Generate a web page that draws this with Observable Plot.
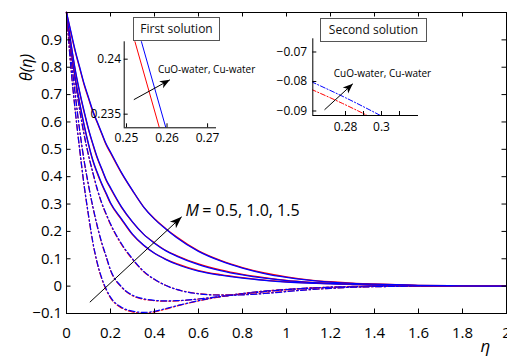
<!DOCTYPE html>
<html><head><meta charset="utf-8">
<script src="https://cdn.jsdelivr.net/npm/d3@7"></script>
<script src="https://cdn.jsdelivr.net/npm/@observablehq/plot@0.6"></script>
<style>
body{margin:0;background:#fff;}
#chart{position:relative;width:507px;height:356px;overflow:hidden;font-family:"Open Sans",sans-serif;background:#fff;}
#chart svg{position:absolute;overflow:visible;background:transparent;}
.tbox{position:absolute;box-sizing:border-box;border:1px solid #555;background:#fff;font-size:12px;text-align:center;color:#111;font-family:"Open Sans",sans-serif;}
</style></head><body><div id="chart"></div>
<script>
// ---------- data ----------
const eta = [0, 0.02, 0.04, 0.06, 0.08, 0.10, 0.12, 0.14, 0.16, 0.18, 0.20, 0.25, 0.30, 0.35, 0.40, 0.45, 0.50, 0.60, 0.70, 0.80, 0.90, 1.00, 1.10, 1.20, 1.30, 1.40, 1.50, 1.60, 1.80, 2.00];

// First solution (solid), Cu-water (blue)
const thetaCu1_M05 = [1, 0.87, 0.76, 0.67, 0.59, 0.52, 0.46, 0.415, 0.375, 0.34, 0.305, 0.246, 0.19, 0.15, 0.12, 0.098, 0.08, 0.055, 0.04, 0.029, 0.021, 0.015, 0.011, 0.008, 0.006, 0.004, 0.003, 0.002, 0.001, 0];
const thetaCu1_M10 = [1, 0.89, 0.79, 0.71, 0.64, 0.575, 0.52, 0.47, 0.43, 0.39, 0.36, 0.29, 0.235, 0.19, 0.157, 0.13, 0.11, 0.079, 0.057, 0.041, 0.029, 0.02, 0.014, 0.01, 0.007, 0.005, 0.003, 0.002, 0.001, 0];
const thetaCu1_M15 = [1, 0.93, 0.86, 0.80, 0.74, 0.69, 0.64, 0.60, 0.56, 0.52, 0.49, 0.415, 0.35, 0.29, 0.245, 0.21, 0.178, 0.127, 0.092, 0.066, 0.046, 0.032, 0.022, 0.015, 0.01, 0.007, 0.005, 0.003, 0.001, 0];
// First solution (solid), CuO-water (red)
const thetaCuO1_M05 = [1, 0.866, 0.756, 0.666, 0.586, 0.517, 0.457, 0.412, 0.372, 0.337, 0.302, 0.2435, 0.188, 0.149, 0.12, 0.099, 0.082, 0.057, 0.042, 0.031, 0.022, 0.016, 0.012, 0.009, 0.006, 0.004, 0.003, 0.002, 0.001, 0];
const thetaCuO1_M10 = [1, 0.886, 0.786, 0.706, 0.636, 0.572, 0.517, 0.467, 0.427, 0.387, 0.357, 0.288, 0.234, 0.19, 0.158, 0.131, 0.112, 0.081, 0.059, 0.043, 0.031, 0.021, 0.015, 0.011, 0.008, 0.005, 0.003, 0.002, 0.001, 0];
const thetaCuO1_M15 = [1, 0.926, 0.856, 0.796, 0.736, 0.686, 0.637, 0.597, 0.557, 0.517, 0.487, 0.413, 0.349, 0.29, 0.246, 0.211, 0.18, 0.129, 0.094, 0.068, 0.048, 0.034, 0.023, 0.016, 0.011, 0.008, 0.005, 0.003, 0.001, 0];

// Second solution (dash-dot), Cu-water (blue)
const thetaCu2_M05 = [1, 0.80, 0.64, 0.50, 0.37, 0.26, 0.16, 0.085, 0.03, -0.01, -0.04, -0.077, -0.0915, -0.096, -0.092, -0.082, -0.072, -0.053, -0.038, -0.027, -0.018, -0.012, -0.007, -0.004, -0.002, -0.001, 0, 0, 0, 0];
const thetaCu2_M10 = [1, 0.84, 0.70, 0.57, 0.46, 0.37, 0.29, 0.22, 0.16, 0.11, 0.06, -0.002, -0.033, -0.046, -0.052, -0.054, -0.053, -0.047, -0.038, -0.029, -0.02, -0.013, -0.008, -0.004, -0.002, -0.001, 0, 0, 0, 0];
const thetaCu2_M15 = [1, 0.865, 0.75, 0.645, 0.555, 0.48, 0.415, 0.355, 0.305, 0.265, 0.228, 0.155, 0.10, 0.055, 0.025, 0.003, -0.012, -0.028, -0.033, -0.032, -0.027, -0.02, -0.013, -0.008, -0.004, -0.002, -0.001, 0, 0, 0];
// Second solution (dash-dot), CuO-water (red)
const thetaCuO2_M05 = [1, 0.798, 0.637, 0.497, 0.367, 0.257, 0.157, 0.082, 0.027, -0.013, -0.043, -0.0795, -0.094, -0.099, -0.094, -0.084, -0.073, -0.054, -0.039, -0.027, -0.018, -0.012, -0.007, -0.004, -0.002, -0.001, 0, 0, 0, 0];
const thetaCuO2_M10 = [1, 0.838, 0.697, 0.567, 0.457, 0.367, 0.287, 0.217, 0.157, 0.107, 0.057, -0.004, -0.035, -0.048, -0.053, -0.055, -0.054, -0.047, -0.038, -0.028, -0.02, -0.013, -0.008, -0.004, -0.002, -0.001, 0, 0, 0, 0];
const thetaCuO2_M15 = [1, 0.862, 0.747, 0.642, 0.552, 0.477, 0.412, 0.352, 0.302, 0.262, 0.225, 0.152, 0.098, 0.053, 0.024, 0.003, -0.012, -0.027, -0.032, -0.031, -0.026, -0.019, -0.013, -0.008, -0.004, -0.002, -0.001, 0, 0, 0];

// Inset 1: first solution zoom
const inset1EtaCuO = [0.2514, 0.2584];
const inset1ThetaCuO = [0.24249, 0.23339];
const inset1EtaCu = [0.2530, 0.2600];
const inset1ThetaCu = [0.24249, 0.23339];
// Inset 2: second solution zoom
const inset2EtaCu = [0.2610, 0.2800, 0.3010];
const inset2ThetaCu = [-0.08007, -0.0855, -0.09203];
const inset2EtaCuO = [0.2610, 0.2775, 0.2940];
const inset2ThetaCuO = [-0.08266, -0.0872, -0.09207];

// ticks
const xTicks = [0, 0.2, 0.4, 0.6, 0.8, 1, 1.2, 1.4, 1.6, 1.8, 2];
const yTicks = [-0.1, 0, 0.1, 0.2, 0.3, 0.4, 0.5, 0.6, 0.7, 0.8, 0.9];
const inset1XTicks = [0.25, 0.26, 0.27];
const inset1YTicks = [0.235, 0.24];
const inset2XTicks = [0.28, 0.29, 0.3, 0.31];
const inset2XLabels = [0.28, 0.3];
const inset2YTicks = [-0.09, -0.08, -0.07];

const labelM = "M";
const labelMValues = "= 0.5, 1.0, 1.5";
const labelFluids = "CuO-water, Cu-water";

// ---------- helpers ----------
const RED = "#ff0000", BLUE = "#0000ff";
const fmt = d => (d < 0 ? "\u2212" + String(Math.abs(d)) : String(d));
const rows = (xs, ys) => xs.map((x, i) => ({x, y: ys[i]}));
const DASHDOT = "6,2.5,1.5,2.5";

function dart(angle, L, W) {
  const c = Math.cos(angle), s = Math.sin(angle);
  const pt = (u, v) => [u * c - v * s, u * s + v * c];
  return {draw(ctx) {
    const a = pt(-L, W), b = pt(-0.72 * L, 0), e = pt(-L, -W);
    ctx.moveTo(0, 0); ctx.lineTo(a[0], a[1]); ctx.lineTo(b[0], b[1]); ctx.lineTo(e[0], e[1]); ctx.closePath();
  }};
}
function screenAngle(ar, kx, ky) {
  return Math.atan2((ar.y2 - ar.y1) * ky, (ar.x2 - ar.x1) * kx);
}

const chart = document.getElementById("chart");
function place(svg, left, top) {
  svg.style.left = left + "px"; svg.style.top = top + "px";
  chart.appendChild(svg);
}

// ---------- main plot ----------
const W = 507, H = 356, mL = 66, mR = 1, mT = 12, mB = 43;
const xDom = [0, 2], yDom = [-0.1, 1];
const innerW = W - mL - mR, innerH = H - mT - mB;
const kx = innerW / (xDom[1] - xDom[0]), ky = -innerH / (yDom[1] - yDom[0]);

const arrowMain = [{x1: 0.106, y1: -0.0588, x2: 0.5236, y2: 0.2533}];

const solid = (arr, color) => Plot.line(rows(eta, arr), {x: "x", y: "y", stroke: color, strokeWidth: 1.3, curve: "monotone-x"});
const dashed = (arr, color) => Plot.line(rows(eta, arr), {x: "x", y: "y", stroke: color, strokeWidth: 1.2, strokeDasharray: DASHDOT, curve: "monotone-x"});

const main = Plot.plot({
  width: W, height: H, marginLeft: mL, marginRight: mR, marginTop: mT, marginBottom: mB,
  style: {fontFamily: "Open Sans, sans-serif", fontSize: "15px", color: "#000", background: "transparent", overflow: "visible"},
  x: {domain: xDom, axis: null},
  y: {domain: yDom, axis: null},
  marks: [
    dashed(thetaCuO2_M05, RED), dashed(thetaCu2_M05, BLUE),
    dashed(thetaCuO2_M10, RED), dashed(thetaCu2_M10, BLUE),
    dashed(thetaCuO2_M15, RED), dashed(thetaCu2_M15, BLUE),
    solid(thetaCuO1_M05, RED), solid(thetaCu1_M05, BLUE),
    solid(thetaCuO1_M10, RED), solid(thetaCu1_M10, BLUE),
    solid(thetaCuO1_M15, RED), solid(thetaCu1_M15, BLUE),
    Plot.tickX(xTicks, {x: d => d, insetTop: innerH - 4.5, stroke: "#000"}),
    Plot.tickX(xTicks, {x: d => d, insetBottom: innerH - 4.5, stroke: "#000"}),
    Plot.tickY(yTicks, {y: d => d, insetRight: innerW - 4.5, stroke: "#000"}),
    Plot.tickY(yTicks, {y: d => d, insetLeft: innerW - 4.5, stroke: "#000"}),
    Plot.axisX({ticks: xTicks, tickSize: 0, tickPadding: 13.5, fontSize: 15, tickFormat: fmt, label: null}),
    Plot.axisY({ticks: yTicks, tickSize: 0, tickPadding: 4.5, fontSize: 15, tickFormat: fmt, label: null}),
    Plot.frame({stroke: "#000", strokeWidth: 1}),
    Plot.link(arrowMain, {x1: "x1", y1: "y1", x2: "x2", y2: "y2", stroke: "#000", strokeWidth: 1}),
    Plot.dot(arrowMain, {x: "x2", y: "y2", symbol: dart(screenAngle(arrowMain[0], kx, ky), 12, 4.5), fill: "#000", stroke: "none"}),
    Plot.text([labelM], {x: 0.5409, y: 0.2581, text: d => d, textAnchor: "start", lineAnchor: "bottom", fontSize: 16, fontStyle: "italic", fill: "#000"}),
    Plot.text([labelMValues], {x: 0.6168, y: 0.2581, text: d => d, textAnchor: "start", lineAnchor: "bottom", fontSize: 16, fill: "#000"}),
    Plot.text(["\u03b8(\u03b7)"], {frameAnchor: "top-left", dx: -40, dy: 55, rotate: -90, text: d => d, fontSize: 16, fontStyle: "italic", textAnchor: "middle", lineAnchor: "middle", fill: "#000"}),
    Plot.text(["\u03b7"], {frameAnchor: "bottom-left", dx: 419, dy: 38, text: d => d, fontSize: 17, fontStyle: "italic", textAnchor: "middle", lineAnchor: "bottom", fill: "#000"})
  ]
});
place(main, 0, 0);

// ---------- insets ----------
function inset({left, top, width, height, mLeft, mTop, mRight, mBottom, xDomain, yDomain, xTickVals, xLabelVals, yTickVals, yPad, xPad, lines, arrow, textPos}) {
  const iw = width - mLeft - mRight, ih = height - mTop - mBottom;
  const ikx = iw / (xDomain[1] - xDomain[0]), iky = -ih / (yDomain[1] - yDomain[0]);
  const p = Plot.plot({
    width, height, marginLeft: mLeft, marginRight: mRight, marginTop: mTop, marginBottom: mBottom,
    style: {fontFamily: "Open Sans, sans-serif", fontSize: "12px", color: "#000", background: "transparent", overflow: "visible"},
    x: {domain: xDomain, axis: null},
    y: {domain: yDomain, axis: null},
    marks: [
      ...lines,
      Plot.ruleX([xDomain[0]], {stroke: "#000"}),
      Plot.ruleY([yDomain[0]], {stroke: "#000"}),
      Plot.tickX(xTickVals, {x: d => d, insetTop: ih - 4, stroke: "#000"}),
      Plot.tickY(yTickVals, {y: d => d, insetRight: iw - 4, stroke: "#000"}),
      Plot.axisX({ticks: xLabelVals, tickSize: 0, tickPadding: xPad, fontSize: 12, tickFormat: fmt, label: null}),
      Plot.axisY({ticks: yTickVals, tickSize: 0, tickPadding: yPad, fontSize: 12, tickFormat: fmt, label: null}),
      Plot.link([arrow], {x1: "x1", y1: "y1", x2: "x2", y2: "y2", stroke: "#000", strokeWidth: 1}),
      Plot.dot([arrow], {x: "x2", y: "y2", symbol: dart(screenAngle(arrow, ikx, iky), 10, 4), fill: "#000", stroke: "none"}),
      Plot.text([labelFluids], {x: textPos[0], y: textPos[1], text: d => d, textAnchor: "start", lineAnchor: "bottom", fontSize: 10, fill: "#000"})
    ]
  });
  place(p, left, top);
}

inset({
  left: 80, top: 36, width: 190, height: 110,
  mLeft: 43.7, mTop: 5.3, mRight: 54, mBottom: 18.7,
  xDomain: [0.24944, 0.27220], yDomain: [0.23376, 0.24158],
  xTickVals: inset1XTicks, xLabelVals: inset1XTicks, yTickVals: inset1YTicks, yPad: 3.2, xPad: 5.7,
  lines: [
    Plot.line(rows(inset1EtaCuO, inset1ThetaCuO), {x: "x", y: "y", stroke: RED, strokeWidth: 1, clip: true}),
    Plot.line(rows(inset1EtaCu, inset1ThetaCu), {x: "x", y: "y", stroke: BLUE, strokeWidth: 1, clip: true})
  ],
  arrow: {x1: 0.251816, y1: 0.236318, x2: 0.260702, y2: 0.238118},
  textPos: [0.25775, 0.2387]
});

inset({
  left: 270, top: 34, width: 175, height: 100,
  mLeft: 42.3, mTop: 4.3, mRight: 27, mBottom: 19,
  xDomain: [0.26183, 0.32056], yDomain: [-0.09153, -0.06553],
  xTickVals: inset2XTicks, xLabelVals: inset2XLabels, yTickVals: inset2YTicks, yPad: 5.6, xPad: 6.7,
  lines: [
    Plot.line(rows(inset2EtaCuO, inset2ThetaCuO), {x: "x", y: "y", stroke: RED, strokeWidth: 1, strokeDasharray: "5,2,1.2,2", curve: "monotone-x", clip: true}),
    Plot.line(rows(inset2EtaCu, inset2ThetaCu), {x: "x", y: "y", stroke: BLUE, strokeWidth: 1, strokeDasharray: "5,2,1.2,2", curve: "monotone-x", clip: true})
  ],
  arrow: {x1: 0.268333, y1: -0.089593, x2: 0.284056, y2: -0.080780},
  textPos: [0.2735, -0.078542]
});

// ---------- title boxes ----------
function titleBox(text, left, top, width, height) {
  const d = document.createElement("div");
  d.className = "tbox";
  d.textContent = text;
  Object.assign(d.style, {left: left + "px", top: top + "px", width: width + "px", height: height + "px", lineHeight: (height - 3) + "px"});
  chart.appendChild(d);
}
titleBox("First solution", 133, 17, 87, 24);
titleBox("Second solution", 320, 18, 107, 24);
</script>
</body></html>
